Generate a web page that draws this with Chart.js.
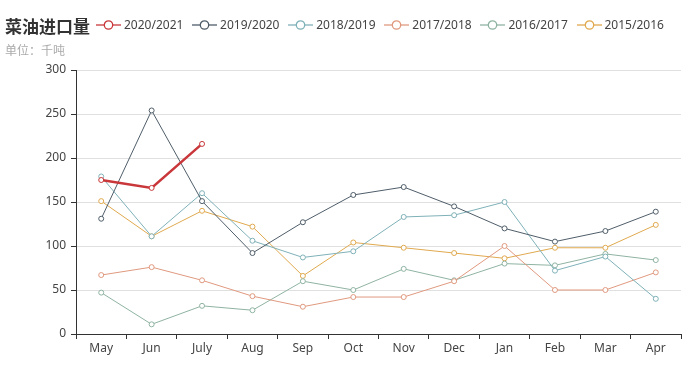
<!DOCTYPE html>
<html>
<head>
<meta charset="utf-8">
<script src="https://cdn.jsdelivr.net/npm/chart.js@4.4.1/dist/chart.umd.min.js"></script>
<style>
  html, body { margin: 0; padding: 0; background: #fff; }
  #wrap { position: relative; width: 688px; height: 371px; overflow: hidden; }
  #c { position: absolute; left: 0; top: 0; }
  #title { position: absolute; left: 5px; top: 14px; font: bold 17px "Noto Sans CJK SC", sans-serif; color: #333; line-height: 24px; }
  #sub { position: absolute; left: 5px; top: 42px; font: 12px "Noto Sans CJK SC", sans-serif; color: #aaa; line-height: 16px; }
  .lg { position: absolute; top: 17px; height: 16px; font: 12px "Noto Sans", "Noto Sans CJK SC", sans-serif; color: #444; line-height: 16px; white-space: nowrap; }
  .lg svg { position: absolute; left: 0; top: 3px; }
  .lg span { position: absolute; left: 28px; top: 0; }
</style>
</head>
<body>
<div id="wrap">
  <canvas id="c" width="688" height="371"></canvas>
  <div id="title">菜油进口量</div>
  <div id="sub">单位：千吨</div>
  <div id="legend"></div>
</div>
<script>
const categories = ["May","Jun","July","Aug","Sep","Oct","Nov","Dec","Jan","Feb","Mar","Apr"];
const seriesNames = ["2020/2021","2019/2020","2018/2019","2017/2018","2016/2017","2015/2016"];
const s2020_2021 = [175, 166, 216, null, null, null, null, null, null, null, null, null];
const s2019_2020 = [131, 254, 151, 92, 127, 158, 167, 145, 120, 105, 117, 139];
const s2018_2019 = [179, 111, 160, 106, 87, 94, 133, 135, 150, 72, 88, 40];
const s2017_2018 = [67, 76, 61, 43, 31, 42, 42, 60, 100, 50, 50, 70];
const s2016_2017 = [47, 11, 32, 27, 60, 50, 74, 61, 80, 78, 91, 84];
const s2015_2016 = [151, 111, 140, 122, 66, 104, 98, 92, 86, 98, 98, 124];
const yTicks = [0, 50, 100, 150, 200, 250, 300];

const seriesValues = [s2020_2021, s2019_2020, s2018_2019, s2017_2018, s2016_2017, s2015_2016];
const colors = ["#c9373a", "#4f5d69", "#7fb1b8", "#e0997f", "#8fb3a2", "#e0a94f"];
const widths = [2.5, 1, 1, 1, 1, 1];

// HTML legend
const lg = document.getElementById('legend');
seriesNames.forEach((n, i) => {
  const d = document.createElement('div');
  d.className = 'lg';
  d.style.left = (96 + 96.1 * i) + 'px';
  d.innerHTML = '<svg width="25" height="10" viewBox="0 0 25 10"><line x1="0" y1="5" x2="25" y2="5" stroke="' + colors[i] + '" stroke-width="1.3"/><circle cx="12.5" cy="5" r="4.2" fill="#fff" stroke="' + colors[i] + '" stroke-width="1.3"/></svg><span>' + n + '</span>';
  lg.appendChild(d);
});

const datasets = seriesNames.map((n, i) => ({
  label: n,
  data: seriesValues[i],
  borderColor: colors[i],
  backgroundColor: '#fff',
  borderWidth: widths[i],
  pointRadius: 2.5,
  pointBorderWidth: 1,
  pointBackgroundColor: '#fff',
  pointBorderColor: colors[i],
  tension: 0,
  spanGaps: false,
  order: i
}));

new Chart(document.getElementById('c'), {
  type: 'line',
  data: { labels: categories, datasets: datasets },
  options: {
    responsive: false,
    animation: false,
    devicePixelRatio: 1,
    layout: { padding: { top: 70, right: 7, bottom: 0, left: 0 } },
    plugins: { legend: { display: false }, title: { display: false }, tooltip: { enabled: false } },
    scales: {
      x: {
        offset: true,
        grid: { offset: true, drawOnChartArea: false, drawTicks: true, tickLength: 5, tickColor: '#333', lineWidth: 1 },
        border: { display: true, color: '#333', width: 1 },
        ticks: { color: '#444', font: { family: '"Noto Sans", sans-serif', size: 12 }, padding: 2, maxRotation: 0, autoSkip: false },
        afterFit: (s) => { s.height = 37; }
      },
      y: {
        min: 0, max: 300,
        afterBuildTicks: (s) => { s.ticks = yTicks.map(v => ({ value: v })); },
        grid: { color: '#e0e0e0', lineWidth: 1, drawTicks: true, tickLength: 5, tickColor: '#333' },
        border: { display: true, color: '#333', width: 1 },
        ticks: { color: '#444', font: { family: '"Noto Sans", sans-serif', size: 12 }, padding: 5 },
        afterFit: (s) => { s.width = 76; }
      }
    }
  }
});
</script>
</body>
</html>
